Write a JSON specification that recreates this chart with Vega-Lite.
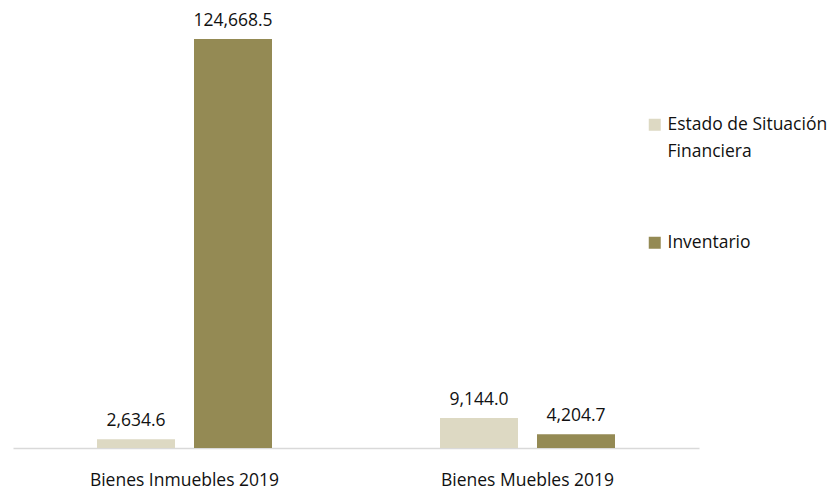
{
  "$schema": "https://vega.github.io/schema/vega-lite/v6.json",
  "width": 686,
  "height": 409,
  "autosize": {"type": "none"},
  "padding": {"left": 13, "top": 39, "right": 137, "bottom": 41},
  "background": "white",
  "config": {"view": {"stroke": null}, "font": "Open Sans"},
  "data": {
    "values": [
      {"categoria": "Bienes Inmuebles 2019", "serie": "Estado de Situación Financiera", "valor": 2634.6},
      {"categoria": "Bienes Inmuebles 2019", "serie": "Inventario", "valor": 124668.5},
      {"categoria": "Bienes Muebles 2019", "serie": "Estado de Situación Financiera", "valor": 9144.0},
      {"categoria": "Bienes Muebles 2019", "serie": "Inventario", "valor": 4204.7}
    ]
  },
  "encoding": {
    "x": {
      "field": "categoria", "type": "nominal", "title": null,
      "scale": {"paddingInner": 0, "paddingOuter": 0},
      "axis": {"labelAngle": 0, "domainColor": "#D9D9D9", "domainWidth": 1.5, "ticks": false, "labelPadding": 37, "labelBaseline": "alphabetic", "labelFontSize": 17.5, "labelLimit": 400, "labelColor": "#111111", "labelFont": "Open Sans"}
    },
    "xOffset": {"field": "serie", "type": "nominal", "scale": {"paddingInner": 0.196, "paddingOuter": 0.866}},
    "y": {
      "field": "valor", "type": "quantitative", "title": null,
      "scale": {"domain": [0, 124668.5], "nice": false},
      "axis": null
    }
  },
  "layer": [
    {
      "mark": {"type": "bar"},
      "encoding": {
        "color": {
          "field": "serie", "type": "nominal", "title": null,
          "scale": {"domain": ["Estado de Situación Financiera", "Inventario"], "range": ["#DDD9C3", "#948A54"]},
          "legend": {
            "orient": "none", "legendX": 633, "legendY": 77,
            "symbolType": "square", "symbolSize": 144, "symbolStrokeWidth": 0,
            "labelFontSize": 17.5, "labelColor": "#111111", "labelFont": "Open Sans",
            "rowPadding": 72, "labelOffset": 4, "labelLimit": 300,
            "labelExpr": "datum.label == 'Estado de Situación Financiera' ? ['Estado de Situación', 'Financiera'] : datum.label",
            "encode": {"labels": {"update": {"lineHeight": {"value": 27}}}}
          }
        }
      }
    },
    {
      "mark": {"type": "text", "dy": -13, "baseline": "alphabetic", "fontSize": 17.5, "color": "#111111", "font": "Open Sans"},
      "encoding": {"text": {"field": "valor", "type": "quantitative", "format": ",.1f"}}
    }
  ]
}
